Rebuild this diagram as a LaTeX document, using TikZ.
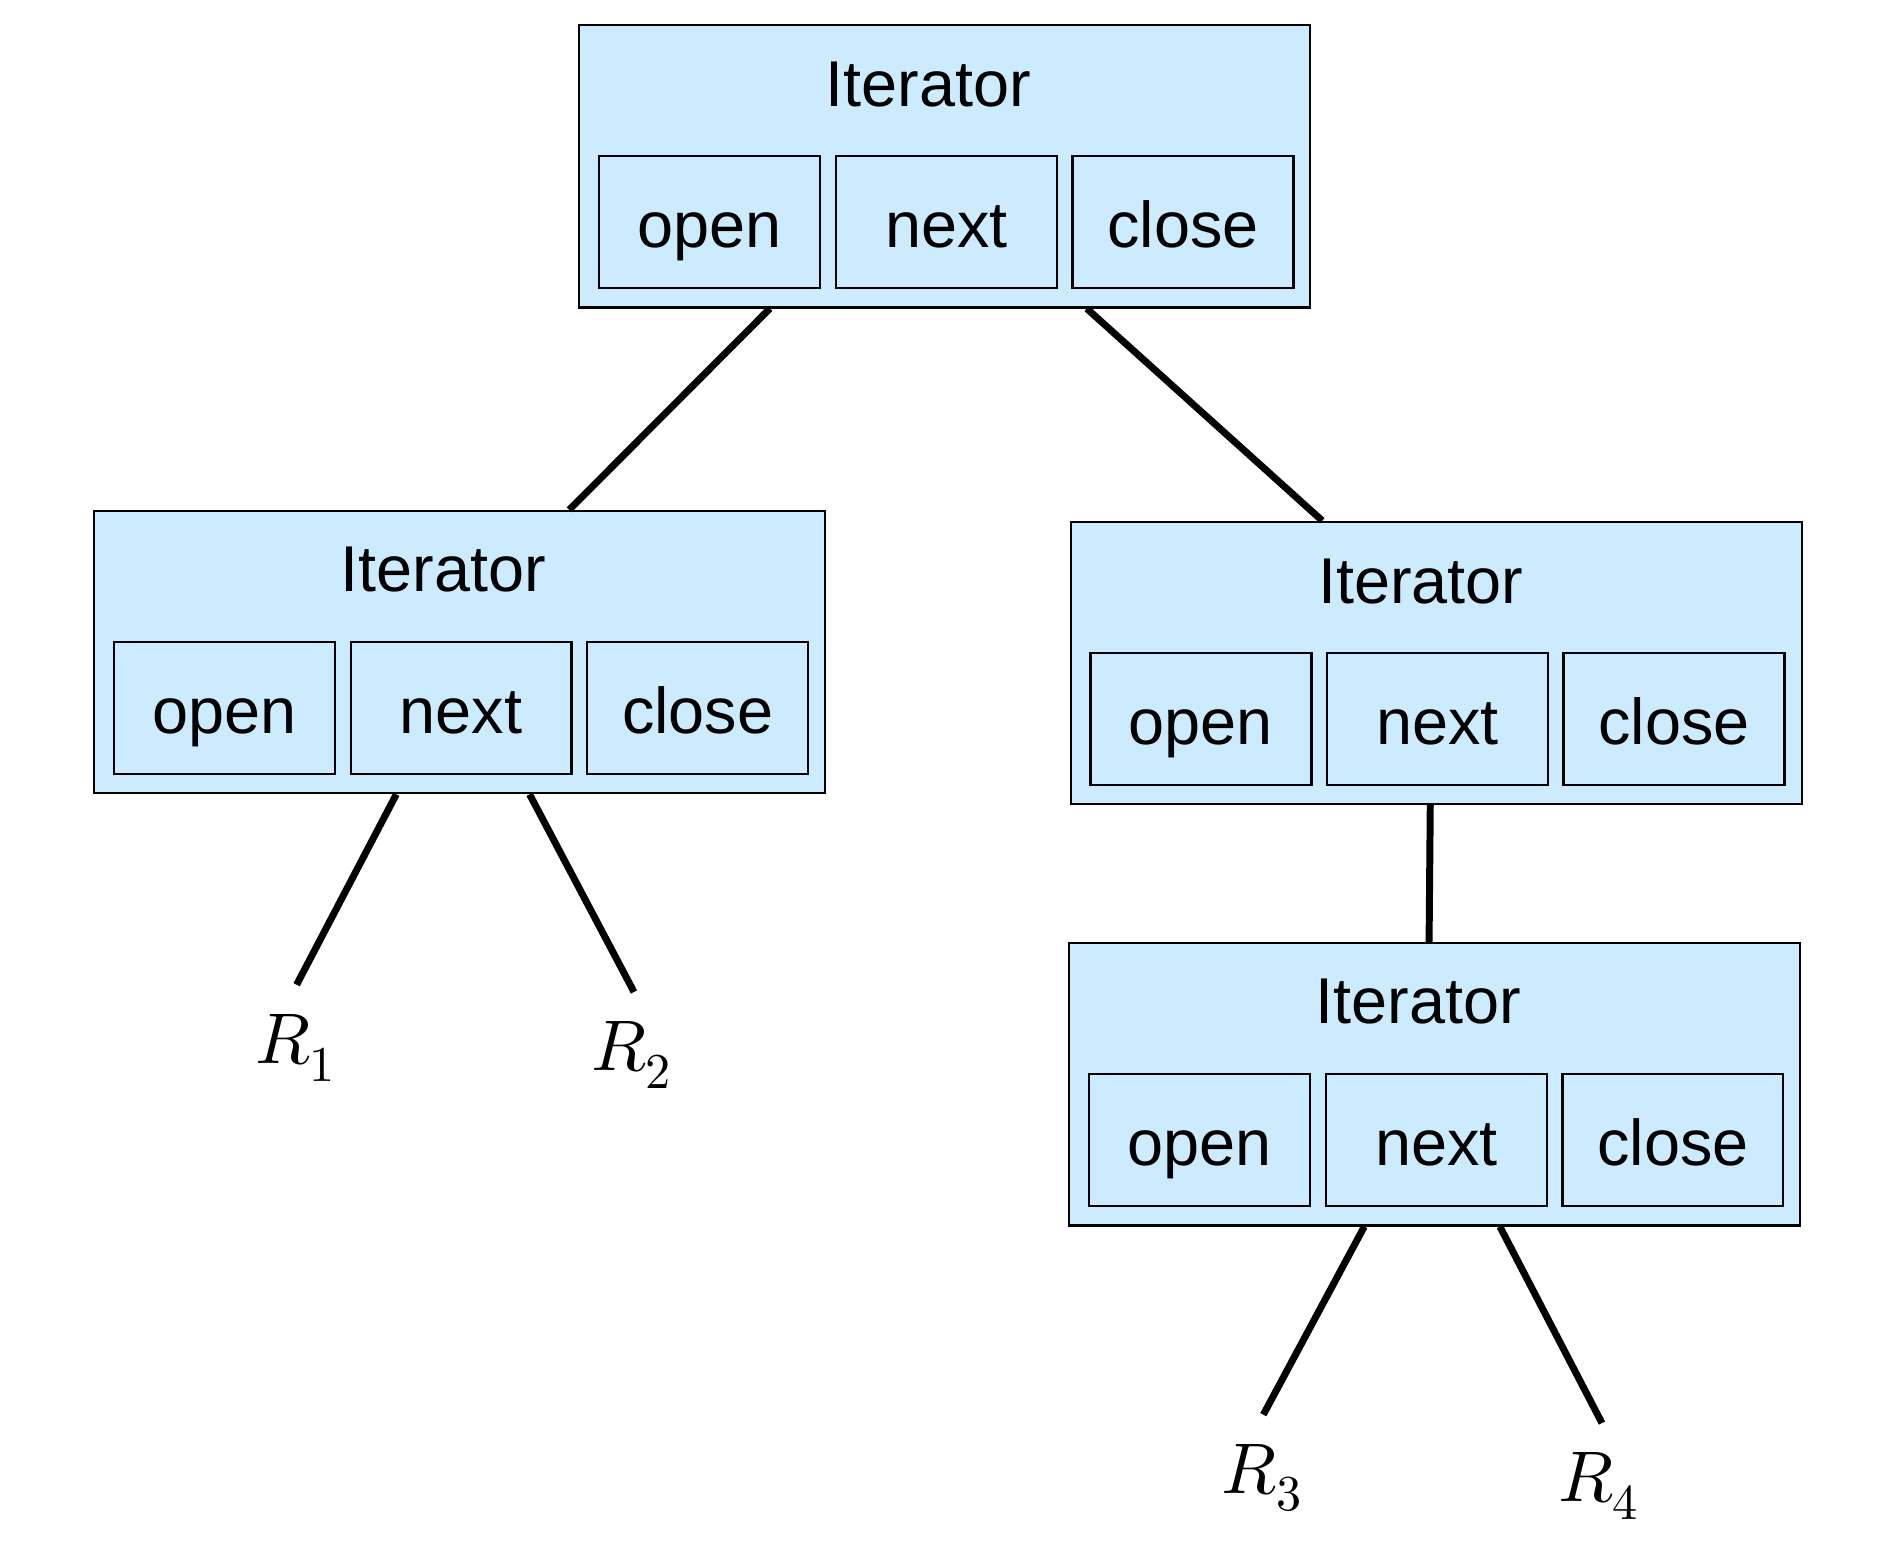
\documentclass[tikz,border=0pt]{standalone}
\usepackage{fontspec}
\setmainfont{Liberation Sans}
\usepackage{unicode-math}
\setmathfont{Latin Modern Math}
\usetikzlibrary{positioning}
\definecolor{iterblue}{RGB}{204,235,255}
\tikzset{
  iterbox/.style={rectangle,draw,fill=iterblue,line width=1.1pt,
    minimum width=12.18cm,minimum height=4.7cm,inner sep=0pt},
  opbox/.style={rectangle,draw,fill=iterblue,line width=1.1pt,
    minimum width=3.68cm,minimum height=2.2cm,inner sep=0pt,
    text height=30pt,text depth=6pt},
  itertitle/.style={inner sep=0pt},
  link/.style={line width=3.3pt},
  leaf/.style={inner sep=0pt,outer sep=14pt,anchor=north,
    font=\fontsize{34}{40}\selectfont}
}

\begin{document}
\begin{tikzpicture}[x=0.02cm,y=-0.02cm,
  every node/.style={font=\fontsize{30.7}{37}\selectfont}]
\useasboundingbox (0,0) rectangle (1568,1294);

% Top iterator
\node[iterbox] (T) at (786.5,138.5) {};
\node[itertitle] (T-title) at (773,70) {Iterator};
\node[opbox] (T-open) at (591,185) {open};
\node[opbox] (T-next) at (788,185) {next};
\node[opbox] (T-close) at (985,185) {close};

% Left iterator
\node[iterbox] (L) at (382.5,543) {};
\node[itertitle] (L-title) at (369,474) {Iterator};
\node[opbox] (L-open) at (187,589.5) {open};
\node[opbox] (L-next) at (384,589.5) {next};
\node[opbox] (L-close) at (581,589.5) {close};

% Right iterator
\node[iterbox] (Rt) at (1196,552) {};
\node[itertitle] (Rt-title) at (1183,484) {Iterator};
\node[opbox] (Rt-open) at (1000,598.5) {open};
\node[opbox] (Rt-next) at (1197,598.5) {next};
\node[opbox] (Rt-close) at (1394,598.5) {close};

% Bottom iterator
\node[iterbox] (B) at (1194.5,903) {};
\node[itertitle] (B-title) at (1181,834) {Iterator};
\node[opbox] (B-open) at (999,949.5) {open};
\node[opbox] (B-next) at (1196,949.5) {next};
\node[opbox] (B-close) at (1393,949.5) {close};

% Relations
\node[leaf] (R1) at (246,820) {$R_1$};
\node[leaf] (R2) at (526,826) {$R_2$};
\node[leaf] (R3) at (1051,1178) {$R_3$};
\node[leaf] (R4) at (1331,1185) {$R_4$};

% Tree edges
\draw[link] ([xshift=-2.91cm]T.south) -- ([xshift=1.83cm]L.north);
\draw[link] ([xshift=2.37cm]T.south) -- ([xshift=-1.90cm]Rt.north);
\draw[link] ([xshift=-0.10cm]Rt.south) -- ([xshift=-0.09cm]B.north);
\draw[link] ([xshift=-1.05cm]L.south) -- ([xshift=0.56pt]R1.north);
\draw[link] ([xshift=1.17cm]L.south) -- ([xshift=1.1pt]R2.north);
\draw[link] ([xshift=-1.17cm]B.south) -- ([xshift=0.56pt]R3.north);
\draw[link] ([xshift=1.09cm]B.south) -- ([xshift=1.7pt]R4.north);

\end{tikzpicture}
\end{document}
